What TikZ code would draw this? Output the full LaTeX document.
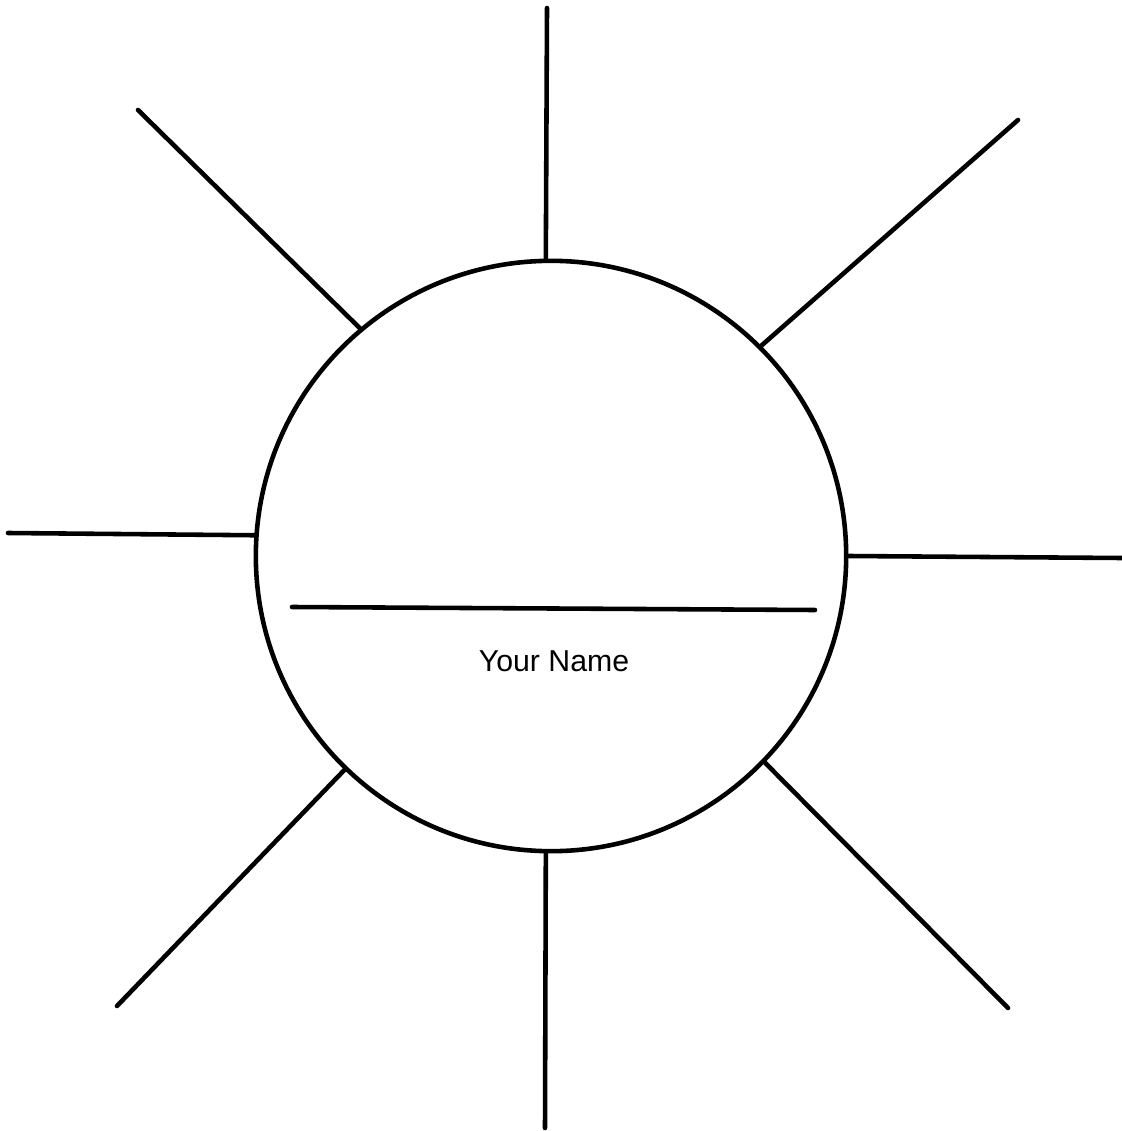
\documentclass[tikz,border=0pt]{standalone}
\usepackage{fontspec}
\setmainfont{Liberation Sans}
\usetikzlibrary{positioning}

\begin{document}
\begin{tikzpicture}[x=0.01cm, y=-0.01cm,
		ray/.style={line width=1.3pt, line cap=round},
		sun/.style={draw, circle, line width=1.3pt, minimum size=5.9cm, inner sep=0pt},
		font=\fontsize{8.6}{10}\selectfont]
		%Bildbereich
		\useasboundingbox (0,0) rectangle (1122,1131);
		% Kreis
		\node[sun] (sun) at (551,556) {};
		% Strahlenenden
		\coordinate (rN)  at (547,8);
		\coordinate (rNE) at (1018,120);
		\coordinate (rE)  at (1122,558);
		\coordinate (rSE) at (1008,1008);
		\coordinate (rS)  at (545,1128);
		\coordinate (rSW) at (117,1006);
		\coordinate (rW)  at (8,533);
		\coordinate (rNW) at (138,110);
		% Strahlen zeichnen
		\foreach \a/\r in {91/rN, 45/rNE, 0/rE, -44.6/rSE, -91/rS, -134/rSW, 176/rW, 130.5/rNW}
			\draw[ray] (sun.\a) -- (\r);
		% Namenslinie
		\coordinate (lineL) at (292,607);
		\coordinate (lineR) at (815,610);
		\draw[ray] (lineL) -- (lineR);
		\node (name) at (554,661) {Your Name};
	\end{tikzpicture}
\end{document}
